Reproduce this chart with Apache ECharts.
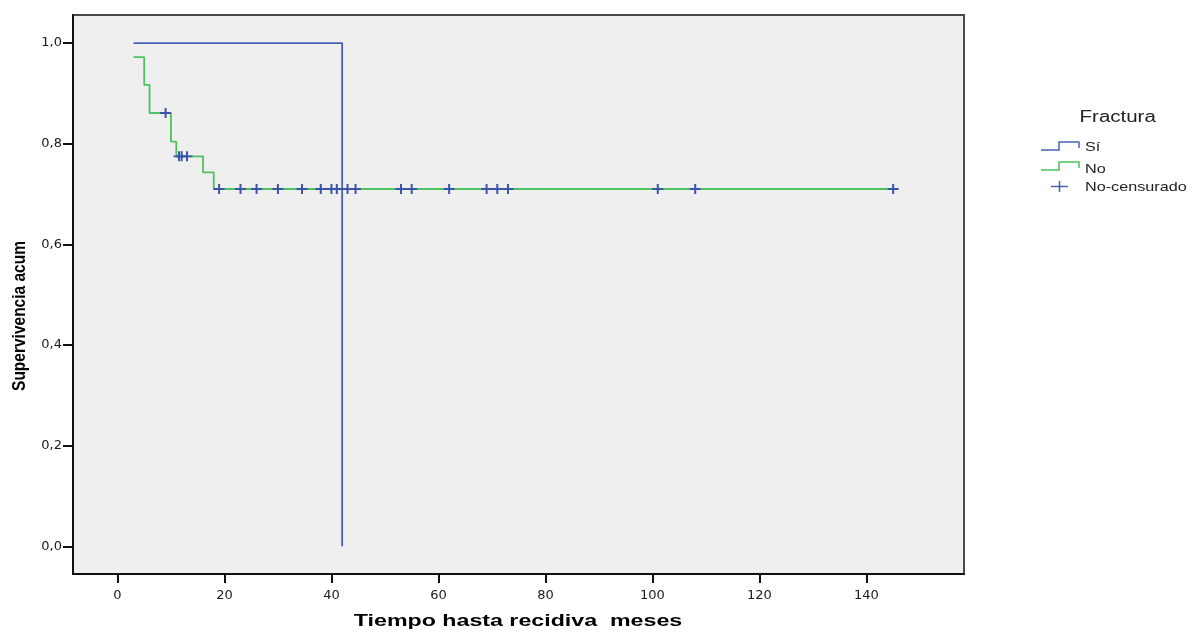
<!DOCTYPE html>
<html><head><meta charset="utf-8">
<script src="https://cdn.jsdelivr.net/npm/echarts@6/dist/echarts.min.js"></script>
<style>html,body{margin:0;padding:0;background:#fff}#c{width:1194px;height:632px}</style>
</head><body><div id="c"></div>
<script>
// ---- data ----
const xTicks = [0, 20, 40, 60, 80, 100, 120, 140];
const yTicks = [0, 0.2, 0.4, 0.6, 0.8, 1.0];
const siTimes = [3, 42];
const siSurv = [1.0, 0.0];
const noTimes = [3, 5, 6, 10, 11, 16, 18, 145];
const noSurv = [0.972, 0.917, 0.861, 0.804, 0.775, 0.743, 0.710, 0.710];
const censTimes = [9, 11.5, 12, 13, 19, 23, 26, 30, 34.5, 38, 40, 41, 43, 44.5, 53, 55, 62, 69, 71, 73, 101, 108, 145];
const censSurv = [0.861, 0.775, 0.775, 0.775, 0.710, 0.710, 0.710, 0.710, 0.710, 0.710, 0.710, 0.710, 0.710, 0.710, 0.710, 0.710, 0.710, 0.710, 0.710, 0.710, 0.710, 0.710, 0.710];
const legendTitle = 'Fractura';
const legendNames = ['Sí', 'No', 'No-censurado'];
const xTitle = 'Tiempo hasta recidiva  meses';
const yTitle = 'Supervivencia acum';

const BLUE = '#4563b9', GREEN = '#4cc35c', CENS = '#3a55a8';
const TICKFONT = '"DejaVu Sans", "Liberation Sans", Arial, sans-serif';
const chart = echarts.init(document.getElementById('c'));
const zip = (a, b) => a.map((v, i) => [v, b[i]]);
const plusPath = 'path://M0,4.1 L4.5,4.1 L4.5,0 L6.5,0 L6.5,4.1 L11,4.1 L11,5.9 L6.5,5.9 L6.5,10 L4.5,10 L4.5,5.9 L0,5.9 Z';

chart.setOption({
  animation: false,
  backgroundColor: '#ffffff',
  grid: { left: 73, top: 15, right: 230, bottom: 58, show: true, backgroundColor: '#efefef', borderColor: '#4a4a4a', borderWidth: 2 },
  xAxis: {
    type: 'value', min: -8.31, max: 158.24,
    axisLine: { show: true, onZero: false, lineStyle: { color: '#111', width: 2 } },
    axisTick: { show: true, customValues: xTicks, length: 9, lineStyle: { color: '#111', width: 2 } },
    axisLabel: { customValues: xTicks, margin: 15, color: '#1a1a1a', fontFamily: TICKFONT, fontSize: 13 },
    splitLine: { show: false }
  },
  yAxis: {
    type: 'value', min: -0.0549, max: 1.0557,
    axisLine: { show: true, onZero: false, lineStyle: { color: '#111', width: 2 } },
    axisTick: { show: true, customValues: yTicks, length: 10, lineStyle: { color: '#111', width: 2 } },
    axisLabel: { customValues: yTicks, margin: 11, color: '#1a1a1a', fontFamily: TICKFONT, fontSize: 13,
      formatter: v => v.toFixed(1).replace('.', ',') },
    splitLine: { show: false }
  },
  series: [
    { name: legendNames[1], type: 'line', step: 'end', data: zip(noTimes, noSurv), showSymbol: false, symbol: 'none',
      lineStyle: { color: GREEN, width: 1.8 }, z: 2 },
    { name: legendNames[0], type: 'line', step: 'end', data: zip(siTimes, siSurv), showSymbol: false, symbol: 'none',
      lineStyle: { color: BLUE, width: 1.8 }, z: 3 },
    { name: legendNames[2], type: 'scatter', data: zip(censTimes, censSurv), symbol: plusPath, symbolSize: [11, 10],
      itemStyle: { color: CENS, opacity: 1 }, z: 4 }
  ],
  graphic: [
    { type: 'text', x: 518, y: 622, scaleX: 1.45, style: { text: xTitle, fontFamily: 'Liberation Sans', fontWeight: 'bold', fontSize: 16, fill: '#000', align: 'center', verticalAlign: 'middle' } },
    { type: 'text', x: 20.5, y: 316, rotation: Math.PI / 2, scaleY: 1.15, style: { text: yTitle, fontFamily: 'Liberation Sans', fontWeight: 'bold', fontSize: 15.5, fill: '#000', align: 'center', verticalAlign: 'middle' } },
    { type: 'text', x: 1117.7, y: 118, scaleX: 1.28, style: { text: legendTitle, fontFamily: 'Liberation Sans', fontSize: 16, fill: '#222', align: 'center', verticalAlign: 'middle' } },
    { type: 'polyline', shape: { points: [[1041, 150], [1059, 150], [1059, 142], [1079, 142], [1079, 148]] }, style: { stroke: BLUE, lineWidth: 1.5, fill: null } },
    { type: 'polyline', shape: { points: [[1041, 170], [1059, 170], [1059, 162], [1079, 162], [1079, 168]] }, style: { stroke: GREEN, lineWidth: 1.5, fill: null } },
    { type: 'line', shape: { x1: 1051, y1: 186.5, x2: 1068, y2: 186.5 }, style: { stroke: BLUE, lineWidth: 1.5 } },
    { type: 'line', shape: { x1: 1059.5, y1: 181, x2: 1059.5, y2: 192 }, style: { stroke: BLUE, lineWidth: 1.5 } },
    { type: 'text', x: 1085, y: 147.5, scaleX: 1.2, style: { text: legendNames[0], fontFamily: 'Liberation Sans', fontSize: 13.5, fill: '#222', align: 'left', verticalAlign: 'middle' } },
    { type: 'text', x: 1085, y: 169, scaleX: 1.2, style: { text: legendNames[1], fontFamily: 'Liberation Sans', fontSize: 13.5, fill: '#222', align: 'left', verticalAlign: 'middle' } },
    { type: 'text', x: 1085, y: 187.5, scaleX: 1.2, style: { text: legendNames[2], fontFamily: 'Liberation Sans', fontSize: 13.5, fill: '#222', align: 'left', verticalAlign: 'middle' } }
  ]
});
</script>
</body></html>
